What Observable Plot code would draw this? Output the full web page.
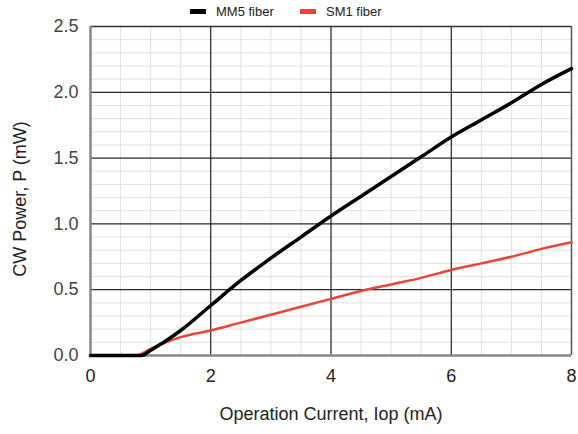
<!DOCTYPE html>
<html><head><meta charset="utf-8">
<script src="https://cdn.jsdelivr.net/npm/d3@7"></script>
<script src="https://cdn.jsdelivr.net/npm/@observablehq/plot@0.6"></script>
<style>
body{margin:0;background:#fff;font-family:"Liberation Sans",Arial,sans-serif;}
#wrap{position:relative;width:578px;height:434px;}
#legend{position:absolute;top:4px;left:0;width:578px;height:18px;font-size:13px;color:#222;z-index:2;}
.item{position:absolute;top:0;display:flex;align-items:center;}
.sw{width:16px;height:5px;margin-right:10px;}
</style></head>
<body><div id="wrap"><div id="legend"></div></div>
<script>
const seriesNames = ["MM5 fiber", "SM1 fiber"];
const seriesColors = ["#000000", "#e8453c"];
const mm5Current = [0, 0.5, 0.85, 1.0, 1.25, 1.5, 2, 2.5, 3, 3.5, 4, 4.5, 5, 5.5, 6, 6.5, 7, 7.5, 8];
const mm5Power   = [0, 0, 0, 0.04, 0.11, 0.19, 0.38, 0.57, 0.74, 0.90, 1.06, 1.21, 1.36, 1.51, 1.66, 1.79, 1.92, 2.06, 2.18];
const sm1Current = [0, 0.5, 0.75, 1.0, 1.25, 1.5, 2, 2.5, 3, 3.5, 4, 4.5, 5, 5.5, 6, 6.5, 7, 7.5, 8];
const sm1Power   = [0, 0, 0, 0.05, 0.10, 0.14, 0.19, 0.25, 0.31, 0.37, 0.43, 0.49, 0.54, 0.59, 0.65, 0.70, 0.75, 0.81, 0.86];
const xTicks = [0, 2, 4, 6, 8];
const yTicks = [0, 0.5, 1.0, 1.5, 2.0, 2.5];
const xMinor = d3.range(0, 8.01, 0.5);
const yMinor = d3.range(0, 2.51, 0.1).map(v => +v.toFixed(1));
const xLabel = "Operation Current, Iop (mA)";
const yLabel = "CW Power, P (mW)";

const data = [
  ...mm5Current.map((x, i) => ({series: seriesNames[0], x, y: mm5Power[i]})),
  ...sm1Current.map((x, i) => ({series: seriesNames[1], x, y: sm1Power[i]}))
];

const chart = Plot.plot({
  width: 578, height: 434,
  marginLeft: 90, marginRight: 7, marginTop: 26, marginBottom: 79,
  style: {fontFamily: "Liberation Sans, Arial, sans-serif", background: "#fff"},
  x: {domain: [0, 8], ticks: xTicks, tickSize: 0, tickPadding: 14, tickFormat: d => d, label: null},
  y: {domain: [0, 2.5], ticks: yTicks, tickSize: 0, tickPadding: 12, tickFormat: d3.format(".1f"), label: null},
  color: {domain: seriesNames, range: seriesColors},
  marks: [
    Plot.ruleX(xMinor, {stroke: "#e2e2e2", strokeWidth: 1}),
    Plot.ruleY(yMinor, {stroke: "#e2e2e2", strokeWidth: 1}),
    Plot.ruleX(xTicks, {stroke: "#000", strokeWidth: 1}),
    Plot.ruleY(yTicks, {stroke: "#000", strokeWidth: 1}),
    Plot.ruleX([8], {stroke: "#555", strokeWidth: 1.5}),
    Plot.ruleY([2.5], {stroke: "#333", strokeWidth: 1.5}),
    Plot.ruleX([0], {stroke: "#888", strokeWidth: 2.5}),
    Plot.ruleY([0], {stroke: "#888", strokeWidth: 2.5}),
    Plot.line(data.filter(d => d.series === seriesNames[1]), {x: "x", y: "y", stroke: "series", strokeWidth: 2.5, curve: "monotone-x"}),
    Plot.line(data.filter(d => d.series === seriesNames[0]), {x: "x", y: "y", stroke: "series", strokeWidth: 3.5, curve: "monotone-x"}),
    Plot.axisX({ticks: xTicks, tickSize: 0, tickPadding: 14, fontSize: 18, fill: "#222", label: null}),
    Plot.axisY({ticks: yTicks, tickSize: 0, tickPadding: 12, fontSize: 18, fill: "#444", tickFormat: d3.format(".1f"), label: null}),
    Plot.text([xLabel], {frameAnchor: "bottom", dy: 64, fontSize: 18, fill: "#222", text: d => d}),
    Plot.text([yLabel], {frameAnchor: "left", textAnchor: "middle", dx: -70, dy: 8, rotate: -90, fontSize: 18, fill: "#222", text: d => d})
  ]
});
chart.style.position = "absolute";
chart.style.top = "0"; chart.style.left = "0";
chart.style.zIndex = "1";
document.getElementById("wrap").appendChild(chart);

const legend = document.getElementById("legend");
const lx = [190, 300];
seriesNames.forEach((n, i) => {
  const it = document.createElement("div");
  it.className = "item"; it.style.left = lx[i] + "px";
  it.innerHTML = `<span class="sw" style="background:${seriesColors[i]}"></span><span>${n}</span>`;
  legend.appendChild(it);
});
</script></body></html>
